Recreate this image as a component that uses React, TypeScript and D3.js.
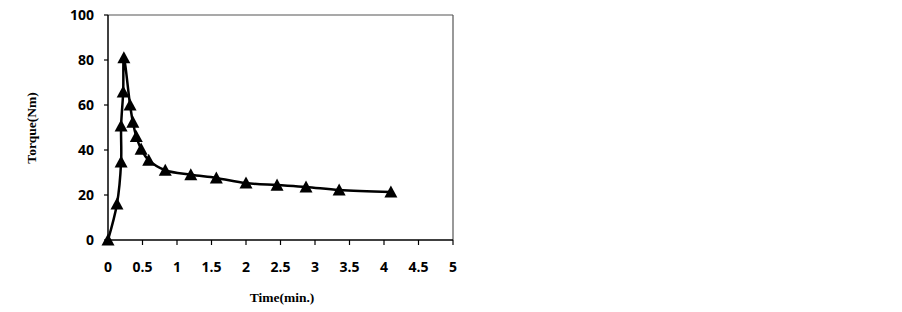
import React from "react";
import * as d3 from "d3";

const timeMin = [0, 0.13, 0.19, 0.19, 0.22, 0.23, 0.32, 0.36, 0.41, 0.48, 0.59, 0.83, 1.2, 1.57, 2.0, 2.45, 2.87, 3.35, 4.1];
const torqueNm = [0, 16, 34.7, 50.7, 65.8, 81, 60, 52.4, 46, 40.4, 35.5, 31, 29, 27.6, 25.3, 24.4, 23.6, 22.2, 21.3];
const xTicks = [0, 0.5, 1, 1.5, 2, 2.5, 3, 3.5, 4, 4.5, 5];
const yTicks = [0, 20, 40, 60, 80, 100];

export default function App() {
  const W = 902, H = 312;
  const left = 108, right = 453, top = 15, bottom = 240;
  const x = d3.scaleLinear().domain([0, 5]).range([left, right]);
  const y = d3.scaleLinear().domain([0, 100]).range([bottom, top]);
  const pts: [number, number][] = timeMin.map((t, i) => [x(t), y(torqueNm[i])]);
  const line = d3.line().curve(d3.curveCatmullRom.alpha(0.5))(pts) || "";
  const tri = (cx: number, cy: number) => {
    const s = 6.5;
    return `M${cx},${cy - s} L${cx + s},${cy + s * 0.85} L${cx - s},${cy + s * 0.85} Z`;
  };
  const tickFont = "'Open Sans', 'DejaVu Sans', sans-serif";
  const serif = "'Liberation Serif', 'Times New Roman', serif";
  return (
    <svg width={W} height={H} style={{ position: "absolute", left: 0, top: 0, background: "#fff" }}>
      <rect x={0} y={0} width={W} height={H} fill="#fff" />
      <line x1={left} y1={top} x2={right} y2={top} stroke="#555" strokeWidth={1.2} />
      <line x1={right} y1={top} x2={right} y2={bottom} stroke="#555" strokeWidth={1.2} />
      <line x1={left} y1={top} x2={left} y2={bottom} stroke="#000" strokeWidth={1.5} />
      <line x1={left} y1={bottom} x2={right} y2={bottom} stroke="#000" strokeWidth={1.5} />
      {yTicks.map((t) => (
        <g key={"y" + t}>
          <line x1={left - 4} x2={left} y1={y(t)} y2={y(t)} stroke="#000" strokeWidth={1.2} />
          <text x={94} y={y(t)} dy="0.35em" textAnchor="end" fontFamily={tickFont} fontWeight="bold" fontSize={14}>{t}</text>
        </g>
      ))}
      {xTicks.map((t) => (
        <g key={"x" + t}>
          <line x1={x(t)} x2={x(t)} y1={bottom} y2={bottom + 5} stroke="#000" strokeWidth={1.2} />
          <text x={x(t)} y={267} dy="0.35em" textAnchor="middle" fontFamily={tickFont} fontWeight="bold" fontSize={14}>{t}</text>
        </g>
      ))}
      <path d={line} fill="none" stroke="#000" strokeWidth={2.5} />
      {pts.map(([cx, cy], i) => (
        <path key={i} d={tri(cx, cy)} fill="#000" />
      ))}
      <text x={282} y={297} dy="0.35em" textAnchor="middle" fontFamily={serif} fontWeight="bold" fontSize={13.5}>Time(min.)</text>
      <text transform={`translate(31,128) rotate(-90)`} dy="0.35em" textAnchor="middle" fontFamily={serif} fontWeight="bold" fontSize={13.5}>Torque(Nm)</text>
    </svg>
  );
}
